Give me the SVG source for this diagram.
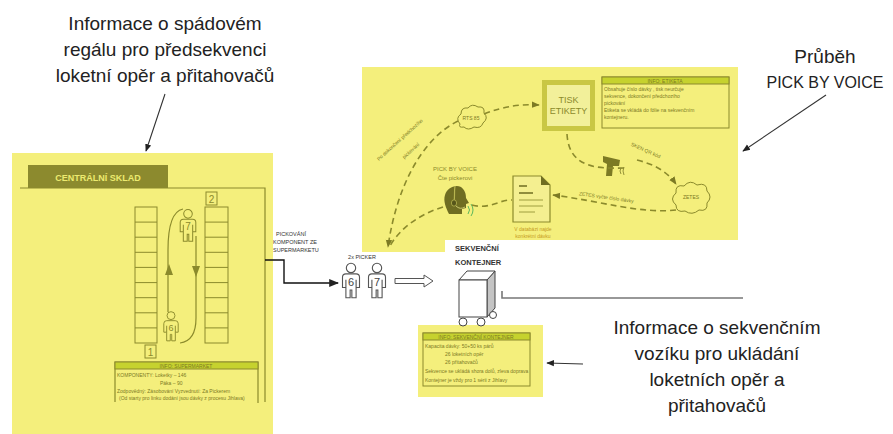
<svg xmlns="http://www.w3.org/2000/svg" width="893" height="434" viewBox="0 0 893 434">
  <style>
    .panel { fill: #f4ef7c; }
    .ol { fill: none; stroke: #8b8a2c; stroke-width: 1.2; }
    .olf { fill: #8b8a2c; }
    .dash { fill: none; stroke: #8b8a2c; stroke-width: 1.6; stroke-dasharray: 6 4; }
    .note { font-family: "Liberation Sans", Arial, sans-serif; font-size: 19px; fill: #222; text-anchor: middle; }
    .tiny { font-family: "Liberation Sans", Arial, sans-serif; font-size: 5px; fill: #7c7a24; }
    .small { font-family: "Liberation Sans", Arial, sans-serif; font-size: 5.5px; fill: #333; }
    .olt { font-family: "Liberation Sans", Arial, sans-serif; fill: #8b8a2c; text-anchor: middle; }
    .hdr { fill: #c6d22e; stroke: #8b8a2c; stroke-width: 1; }
    .ann { fill: none; stroke: #333; stroke-width: 1.1; }
    .cell { fill: none; stroke: #8b8a2c; stroke-width: 1; }
  </style>
  <defs>
    <marker id="ah" viewBox="0 0 10 10" refX="9" refY="5" markerWidth="7" markerHeight="7" orient="auto">
      <path d="M0,1 L10,5 L0,9 Z" fill="#222"/>
    </marker>
    <marker id="ahOl" viewBox="0 0 10 10" refX="9" refY="5" markerWidth="5" markerHeight="5" orient="auto">
      <path d="M0,1 L10,5 L0,9 Z" fill="#7c7a24"/>
    </marker>
    <!-- person outline, origin near chest -->
    <g id="person">
      <circle cx="0" cy="-13" r="5.5"/>
      <path d="M-6,22 V10 H-10 V-2 Q-10,-6 -6,-6 H6 Q10,-6 10,-2 V10 H6 V22 H1 V13 H-1 V22 Z M-6,1 V10 M6,1 V10"/>
    </g>
  </defs>

  <!-- background panels -->
  <rect class="panel" x="12" y="153" width="261" height="281"/>
  <rect class="panel" x="362" y="67" width="376" height="173"/>
  <rect class="panel" x="362" y="235" width="83" height="17"/>
  <rect class="panel" x="418" y="325" width="125" height="72"/>

  <!-- annotations -->
  <g id="note-spad">
    <text class="note" x="165" y="30">Informace o spádovém</text>
    <text class="note" x="165" y="56">regálu pro předsekvenci</text>
    <text class="note" x="165" y="82">loketní opěr a přitahovačů</text>
  </g>
  <g id="note-voice">
    <text class="note" x="825" y="63">Průběh</text>
    <text class="note" x="825" y="88" style="font-size:16px">PICK BY VOICE</text>
  </g>
  <g id="note-vozik">
    <text class="note" x="717" y="334">Informace o sekvenčním</text>
    <text class="note" x="717" y="360">vozíku pro ukládání</text>
    <text class="note" x="717" y="386">loketních opěr a</text>
    <text class="note" x="717" y="412">přitahovačů</text>
  </g>

  <!-- central warehouse -->
  <g id="centralni-sklad">
    <rect x="28" y="165" width="140" height="23" fill="#8c8a2e"/>
    <text x="98" y="181" font-family="Liberation Sans, Arial, sans-serif" font-size="9" font-weight="bold" fill="#ecea70" text-anchor="middle">CENTRÁLNÍ SKLAD</text>
    <path class="ol" d="M20,188 H265 V402"/>
  </g>

  <g id="regal-1">
    <rect class="cell" x="135" y="207" width="22" height="136"/>
    <path class="cell" d="M135,222.1 H157 M135,237.2 H157 M135,252.3 H157 M135,267.4 H157 M135,282.6 H157 M135,297.7 H157 M135,312.8 H157 M135,327.9 H157"/>
    <rect class="cell" x="145" y="345" width="11" height="13"/>
    <text class="olt" x="150.5" y="355.5" font-size="10">1</text>
  </g>
  <g id="regal-2">
    <rect class="cell" x="205" y="207" width="23" height="136"/>
    <path class="cell" d="M205,222.1 H228 M205,237.2 H228 M205,252.3 H228 M205,267.4 H228 M205,282.6 H228 M205,297.7 H228 M205,312.8 H228 M205,327.9 H228"/>
    <rect class="cell" x="206" y="192" width="11" height="13"/>
    <text class="olt" x="211.5" y="202.5" font-size="10">2</text>
  </g>

  <g id="loop">
    <path class="ol" d="M168,312 V250 Q168,212 183,209"/>
    <path class="ol" d="M196,236 V318 Q196,341 180,343"/>
    <path class="olf" d="M169,264 L165,275 H173 Z"/>
    <path class="olf" d="M196,277 L192,266 H200 Z"/>
  </g>
  <g id="picker-7-sklad">
    <use href="#person" transform="translate(188,224) scale(0.78)" fill="#f4ef7c" stroke="#8b8a2c" stroke-width="1.3"/>
    <text class="olt" x="188" y="230" font-size="10">7</text>
  </g>
  <g id="picker-6-sklad">
    <use href="#person" transform="translate(171,325) scale(0.72)" fill="#f4ef7c" stroke="#8b8a2c" stroke-width="1.3"/>
    <text class="olt" x="171" y="331" font-size="9">6</text>
  </g>

  <g id="info-supermarket">
    <path class="ol" d="M115,402 V362 H258 V403"/>
    <rect class="hdr" x="115" y="362" width="143" height="7"/>
    <text class="tiny" x="186" y="367.8" text-anchor="middle">INFO: SUPERMARKET</text>
    <text class="tiny" x="117" y="377">KOMPONENTY:    Loketky – 146</text>
    <text class="tiny" x="160" y="385">Páka – 90</text>
    <text class="tiny" x="117" y="393">Zodpovědný: Zásobování       Vyzvednutí: Za Pickerem</text>
    <text class="tiny" x="119" y="400">(Od starty pro linku dodání jsou dávky z procesu Jihlava)</text>
  </g>

  <!-- pick by voice process -->
  <g id="tisk-etikety">
    <rect x="542" y="80" width="53" height="51" fill="#c9c744"/>
    <rect x="547" y="85" width="43" height="41" fill="#f2f09a"/>
    <text class="olt" x="568.5" y="103" font-size="9">TISK</text>
    <text class="olt" x="568.5" y="114" font-size="9">ETIKETY</text>
  </g>
  <g id="info-etiketa">
    <rect x="602" y="77" width="127" height="51" fill="#f4ef7c" stroke="#8b8a2c" stroke-width="1"/>
    <rect class="hdr" x="602" y="77" width="127" height="7"/>
    <text class="tiny" x="665" y="82.8" text-anchor="middle">INFO: ETIKETA</text>
    <text class="tiny" x="604" y="91">Obsahuje číslo dávky , tisk neurčuje</text>
    <text class="tiny" x="604" y="98">sekvence, dokončení předchozího</text>
    <text class="tiny" x="604" y="105">pickování</text>
    <text class="tiny" x="604" y="112">Etiketa se vkládá do fólie na sekvenčním</text>
    <text class="tiny" x="604" y="119">kontejneru.</text>
  </g>
  <g id="rts">
    <path d="M460,124 Q455,118 461,114 Q461,107 468,108 Q472,103 478,107 Q485,106 484,113 Q489,118 483,123 Q481,129 474,127 Q468,131 464,127 Q458,128 460,124 Z" fill="#f4ef7c" stroke="#8b8a2c" stroke-width="1"/>
    <text class="tiny" x="471" y="120" text-anchor="middle">RTS 85</text>
  </g>
  <g id="zetes">
    <path d="M676,205 Q669,199 676,193 Q675,184 684,186 Q690,179 697,185 Q707,182 707,191 Q713,197 707,203 Q708,212 699,210 Q692,216 685,211 Q676,213 676,205 Z" fill="#f4ef7c" stroke="#8b8a2c" stroke-width="1"/>
    <text class="tiny" x="691" y="199" text-anchor="middle">ZETES</text>
  </g>
  <g id="skener">
    <path d="M603,156 L620,160 L619,166 L613,166 L612,176 L606,176 L607,164 L603,162 Z" fill="#7c7a24"/>
    <path d="M621,168 q-2,3 0,6 M624,167 q-2,4 0,8" fill="none" stroke="#7c7a24" stroke-width="0.8"/>
  </g>
  <g id="pick-by-voice">
    <text class="olt" x="455" y="171" font-size="6">PICK BY VOICE</text>
    <text class="olt" x="455" y="180" font-size="6">Čte pickerovi</text>
    <!-- head in profile wearing a headset -->
    <path d="M449,214 C446,208 443,201 445,195 C447,188 455,184 461,187 C465,190 466,194 466,198 L469,203 L466,204 L466,208 L462,209 L462,214 Z" fill="#6f6d22"/>
    <path d="M455,186 C454,192 455,198 454,202" fill="none" stroke="#b7b550" stroke-width="1.2"/>
    <ellipse cx="454" cy="203" rx="2.6" ry="3.2" fill="#56551a" stroke="#b7b550" stroke-width="0.8"/>
    <path d="M456,206 Q460,210 465,207" fill="none" stroke="#c9c870" stroke-width="1"/>
    <path d="M468,206 q3,4 0,8 M471,204 q4,6 0,12" fill="none" stroke="#5cb85c" stroke-width="1"/>
  </g>
  <g id="dokument">
    <path d="M513,176 H541 L550,185 V222 H513 Z" fill="#f4ef90" stroke="#8b8a2c" stroke-width="1.2"/>
    <path d="M541,176 L550,185 H541 Z" fill="#6f6d22"/>
    <path d="M519,186 H527 M519,193 H533" stroke="#6f6d22" stroke-width="1.6"/>
    <path d="M519,200 H543 M519,206 H543 M519,212 H535" stroke="#8b8a2c" stroke-width="0.8"/>
    <text class="tiny" x="533" y="231" text-anchor="middle" style="fill:#c49a22">V databázi najde</text>
    <text class="tiny" x="533" y="238" text-anchor="middle" style="fill:#c49a22">konkrétní dávku</text>
  </g>

  <!-- dashed process flow -->
  <g id="flow">
    <path class="dash" d="M458,121 C420,140 396,190 388,247" marker-end="url(#ahOl)"/>
    <path class="dash" d="M484,114 C505,106 520,104 539,105" marker-end="url(#ahOl)"/>
    <path class="dash" d="M443,207 C420,214 400,228 390,246"/>
    <path class="dash" d="M472,205 C490,210 500,199 512,200"/>
    <path class="dash" d="M567,134 C569,172 605,168 626,168"/>
    <path class="dash" d="M637,160 C653,164 667,171 676,184" marker-end="url(#ahOl)"/>
    <path class="dash" d="M676,210 C640,214 600,201 553,195" marker-end="url(#ahOl)"/>
    <text class="tiny" transform="translate(401,141) rotate(-42)" text-anchor="middle">Po dokončení předchozího</text>
    <text class="tiny" transform="translate(412,152) rotate(-42)" text-anchor="middle">pickování</text>
    <text class="tiny" transform="translate(645,152) rotate(24)" text-anchor="middle">SKEN QR kód</text>
    <text class="tiny" transform="translate(606,199) rotate(8)" text-anchor="middle">ZETES vyčte číslo dávky</text>
  </g>

  <!-- pickers -->
  <g id="pickeri">
    <text class="small" x="362" y="259" text-anchor="middle">2x PICKER</text>
    <use href="#person" transform="translate(351,279) scale(0.85)" fill="#fff" stroke="#555" stroke-width="1.3"/>
    <text x="351" y="286" font-family="Liberation Sans, Arial, sans-serif" font-size="11" fill="#444" text-anchor="middle">6</text>
    <use href="#person" transform="translate(377,279) scale(0.85)" fill="#fff" stroke="#555" stroke-width="1.3"/>
    <text x="377" y="286" font-family="Liberation Sans, Arial, sans-serif" font-size="11" fill="#444" text-anchor="middle">7</text>
  </g>

  <!-- sequence container -->
  <g id="sekvencni-kontejner">
    <text x="455" y="251" font-family="Liberation Sans, Arial, sans-serif" font-size="7.5" font-weight="bold" fill="#333">SEKVENČNÍ</text>
    <text x="455" y="265" font-family="Liberation Sans, Arial, sans-serif" font-size="7.5" font-weight="bold" fill="#333">KONTEJNER</text>
    <path d="M487,280 L495,271 V308 L487,317 Z" fill="#c4c4c4" stroke="#444" stroke-width="1"/>
    <path d="M459,280 L467,271 H495 L487,280 Z" fill="#fff" stroke="#444" stroke-width="1"/>
    <rect x="459" y="280" width="28" height="37" fill="#fff" stroke="#444" stroke-width="1"/>
    <circle cx="463" cy="322" r="4" fill="#fff" stroke="#444"/>
    <circle cx="481" cy="322" r="4" fill="#fff" stroke="#444"/>
    <circle cx="493" cy="315" r="3.5" fill="#fff" stroke="#444"/>
  </g>

  <g id="info-kontejner">
    <rect x="423" y="333" width="107" height="53" fill="none" stroke="#8b8a2c" stroke-width="1"/>
    <rect class="hdr" x="423" y="333" width="107" height="7"/>
    <text class="tiny" x="476" y="338.8" text-anchor="middle">INFO: SEKVENČNÍ KONTEJNER</text>
    <text class="tiny" x="425" y="348">Kapacita dávky: 50+50 ks párů</text>
    <text class="tiny" x="445" y="356">26 loketních opěr</text>
    <text class="tiny" x="445" y="364">26 přitahovačů</text>
    <text class="tiny" x="425" y="373">Sekvence se ukládá shora dolů, zleva doprava</text>
    <text class="tiny" x="425" y="382">Kontejner je vždy pro 1 sérii z Jihlavy</text>
  </g>

  <!-- connectors -->
  <g id="connectors">
    <path d="M265,260 H284 V283 H338" fill="none" stroke="#111" stroke-width="1.4" marker-end="url(#ah)"/>
    <g id="pickovani-label">
      <text class="small" x="276" y="236">PICKOVÁNÍ</text>
      <text class="small" x="273" y="244">KOMPONENT ZE</text>
      <text class="small" x="273" y="252">SUPERMARKETU</text>
    </g>
    <path d="M395,278.5 H424 V275 L433,281 L424,287 V283.5 H395 Z" fill="#fff" stroke="#555" stroke-width="1"/>
    <path d="M502,291 V298 H743" fill="none" stroke="#777" stroke-width="1.6"/>
    <path class="ann" d="M165,94 L146,151" marker-end="url(#ah)"/>
    <path class="ann" d="M826,95 L743,151" marker-end="url(#ah)"/>
    <path class="ann" d="M583,364 L547,363" marker-end="url(#ah)"/>
  </g>
</svg>
